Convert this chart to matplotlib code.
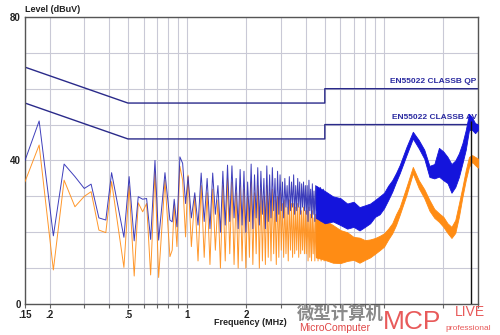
import numpy as np
import matplotlib.pyplot as plt
from matplotlib.patches import Rectangle

plt.rcParams['font.family'] = ['Liberation Sans', 'DejaVu Sans']

# Limit lines (EN55022 class B), MHz / dBuV
qp_f = [0.15, 0.5, 5, 5, 30]
qp_lvl = [66, 56, 56, 60, 60]
av_f = [0.15, 0.5, 5, 5, 30]
av_lvl = [56, 46, 46, 50, 50]

# Low band: individual harmonics, 0.15 - 1 MHz
low_f = [0.150, 0.177, 0.209, 0.237, 0.269, 0.300, 0.325, 0.356, 0.386, 0.413,
         0.477, 0.507, 0.538, 0.564, 0.594, 0.622, 0.652, 0.686, 0.716, 0.771,
         0.817, 0.839, 0.859, 0.887, 0.918, 0.948, 0.981, 1.01]
low_peak = [40, 51, 19, 39, 35.5, 32.2, 33.4, 24, 23.4, 36.6,
            18.6, 35.5, 17.6, 29.9, 29.2, 29.4, 18, 40, 17.8, 36.6,
            23.4, 22.9, 29.2, 21.5, 41, 39.2, 28, 35.5]
low_avg = [34.1, 44.3, 9.5, 34.5, 27.1, 30, 31.3, 20.6, 19.9, 34.1,
           10.2, 32.9, 7.8, 28.2, 25.7, 28, 8.1, 36.9, 7.4, 34.5,
           13.2, 15, 27.6, 16, 38.4, 34.5, 18.7, 35.9]

# Mid band: 1 - 5 MHz sweep, 42.5 kHz steps
mid_f = 1.05 + 0.0425 * np.arange(94)
mid_peak = [24, 31, 22, 36.5, 23, 35, 21, 36.5, 25, 33, 20, 37, 22, 38.7, 23, 38.5, 24, 35, 21, 37.5, 22, 37,
            20, 34, 23, 39, 21, 36, 24, 38, 22, 37, 25, 35, 21, 38.5, 23, 36, 24, 38, 26, 35, 23, 37, 25, 36,
            26, 34, 24, 35, 27, 33, 25, 35.5, 26, 34, 27, 36, 25, 33, 26, 35, 27, 34, 25, 33.5, 27, 34, 26, 33,
            25, 33, 23, 34.5, 26, 32, 24, 33.5, 25, 31.5, 23, 33, 26, 32, 24, 31, 25, 32.5, 23, 31, 24, 32, 23, 31]
mid_avg = [16, 30, 12, 33, 13, 31, 11, 32, 15, 29, 10, 33, 12, 35, 14, 34, 11, 31, 10, 33, 12, 32,
           10, 30, 13, 34, 11, 31, 14, 33, 10, 32, 12, 30, 11, 33, 13, 31, 12, 32, 14, 29, 11, 30, 13, 31,
           15, 28, 13, 29, 14, 27, 12, 29, 15, 28, 13, 28, 14, 27, 15, 28, 13, 27, 14, 26, 15, 27, 14, 26,
           14, 26, 12, 27, 13, 25, 12, 26, 14, 24, 12, 25, 13, 24, 12, 23.5, 14, 24, 12, 23, 13, 24, 12, 23]

# High band: dense sweep, min/max envelope
hi_f = [4.5, 5, 5.5, 6, 6.5, 7, 7.5, 8, 8.5, 9, 9.5, 10, 10.5, 11, 11.5, 12,
        13, 14, 15, 16, 17, 18, 19, 20, 21, 22, 23, 24, 25, 26, 27, 28, 29, 30]
peak_max = [33, 31.5, 30, 29.5, 28, 28.5, 27, 27.5, 28, 29, 30, 31, 33, 34.5, 36.5, 38.7,
            43.8, 48, 45.7, 43, 38.5, 39, 43.5, 42.5, 41, 39, 40, 42, 44.8, 48.5, 53, 52, 50.4, 50]
peak_min = [24, 22.5, 23, 22, 21, 21.5, 20.5, 21.5, 22.5, 24.3, 25, 26.7, 29, 31.3, 34, 36.4,
            41.5, 46.1, 43.4, 40.5, 35.4, 35, 35.5, 34.5, 33.7, 31, 32.6, 35.4, 39.2, 43, 48.5, 48.5, 47.6, 48.5]
avg_max = [25, 23.4, 22, 20.6, 20, 18.7, 18.5, 17.8, 18, 18.4, 19, 19.7, 21, 22.5, 25, 27,
           32.7, 38.2, 34.5, 32, 29, 26.5, 25.3, 24.3, 22.5, 21.5, 23.4, 28, 32.6, 37.3, 41, 41.5, 41, 40.5]
avg_min = [13, 12.3, 11.5, 11.4, 12, 12.3, 11.5, 12.3, 13, 14, 15, 16, 18, 19.7, 22, 24.8,
           30.4, 36.4, 32.3, 29.5, 26, 24, 22.9, 21.5, 19.8, 18.4, 19.8, 24.3, 29.8, 34.5, 38.2, 39.6, 38.7, 38]

marker_f = 27.6
marker_top = 51

x_major = [0.15, 0.2, 0.5, 1, 2, 5, 10, 20, 30]
x_major_lbl = ['.15', '.2', '.5', '1', '2', '5', '10', '20', '30']
x_minor = [0.3, 0.4, 0.6, 0.7, 0.8, 0.9, 3, 4, 6, 7, 8, 9]

blue_line = '#2a2ab4'
blue = '#1414dc'
orange = '#ff8c14'
limit_c = '#2a2a8a'

fig = plt.figure(figsize=(5, 3.35), dpi=100)
ax = fig.add_axes([0.05, 0.0925, 0.906, 0.857])
ax.set_xscale('log')
ax.set_xlim(0.15, 30)
ax.set_ylim(0, 80)

# grid ------------------------------------------------------------
ax.set_xticks(x_major)
ax.set_xticklabels(x_major_lbl)
ax.set_xticks(x_minor, minor=True)
ax.xaxis.set_minor_formatter(plt.NullFormatter())
ax.set_yticks([0, 40, 80])
ax.set_yticks(np.arange(10, 80, 10), minor=True)
ax.grid(which='both', color='#c9c9d6', linewidth=0.8, zorder=0)
ax.set_axisbelow(True)
ax.tick_params(axis='x', which='both', direction='out', length=3, width=0.8, color='#666666', pad=1.5)
ax.tick_params(axis='y', which='both', length=0, pad=3)
for lbl in ax.get_xticklabels() + ax.get_yticklabels():
    lbl.set_fontweight('bold')
    lbl.set_fontsize(7)
    lbl.set_color('#222222')
for sp in ax.spines.values():
    sp.set_color('#555555')
    sp.set_linewidth(1.0)

# limits ----------------------------------------------------------
ax.plot(qp_f, qp_lvl, color=limit_c, linewidth=1.0, zorder=2)
ax.plot(av_f, av_lvl, color=limit_c, linewidth=1.0, zorder=2)
ax.text(29.5, 61, 'EN55022 CLASSB QP', ha='right', va='bottom', fontsize=6, fontweight='bold',
        color='#2a2aa0', zorder=2)
ax.text(29.5, 51, 'EN55022 CLASSB AV', ha='right', va='bottom', fontsize=6, fontweight='bold',
        color='#2a2aa0', zorder=2)

# average trace ---------------------------------------------------
avg_f = list(low_f) + list(mid_f)
avg_lv = low_avg + mid_avg
ax.plot(avg_f, avg_lv, color=orange, linewidth=0.7, alpha=0.9, zorder=3)
ax.fill_between(hi_f, avg_min, avg_max, color=orange, linewidth=0.6, zorder=3)

# peak trace ------------------------------------------------------
pk_f = list(low_f) + list(mid_f)
pk_lv = low_peak + mid_peak
ax.plot(pk_f, pk_lv, color=blue_line, linewidth=0.7, alpha=0.9, zorder=4)
ax.fill_between(hi_f, peak_min, peak_max, color=blue, linewidth=0.6, zorder=4)

ax.vlines(marker_f, 0, marker_top, color='#111111', linewidth=1.0, zorder=5)

fig.text(0.05, 0.972, 'Level (dBuV)', fontsize=6.5, fontweight='bold', color='#222222', va='center')
fig.text(0.5, 0.038, 'Frequency (MHz)', fontsize=6.5, fontweight='bold', color='#222222',
         ha='center', va='center')

# watermark -------------------------------------------------------
fig.patches.append(Rectangle((0.58, 0.0), 0.42, 0.077, transform=fig.transFigure,
                             facecolor='white', edgecolor='none', zorder=5))
fig.text(0.68, 0.063, '微型计算机', fontsize=12.5, fontweight='bold', color='#8a8a8a',
         family=['Noto Sans CJK SC'], ha='center', va='center', zorder=6)
fig.text(0.67, 0.022, 'MicroComputer', fontsize=7.5, color='#e04848', ha='center', va='center', zorder=6)
fig.text(0.765, 0.04, 'MCP', fontsize=19, color='#e85a5a', ha='left', va='center', zorder=6)
fig.text(0.91, 0.068, 'LIVE', fontsize=10, color='#e85a5a', ha='left', va='center', zorder=6)
fig.text(0.89, 0.02, 'professional', fontsize=6, color='#e85a5a', ha='left', va='center', zorder=6)

fig.savefig('out.png', dpi=100)
